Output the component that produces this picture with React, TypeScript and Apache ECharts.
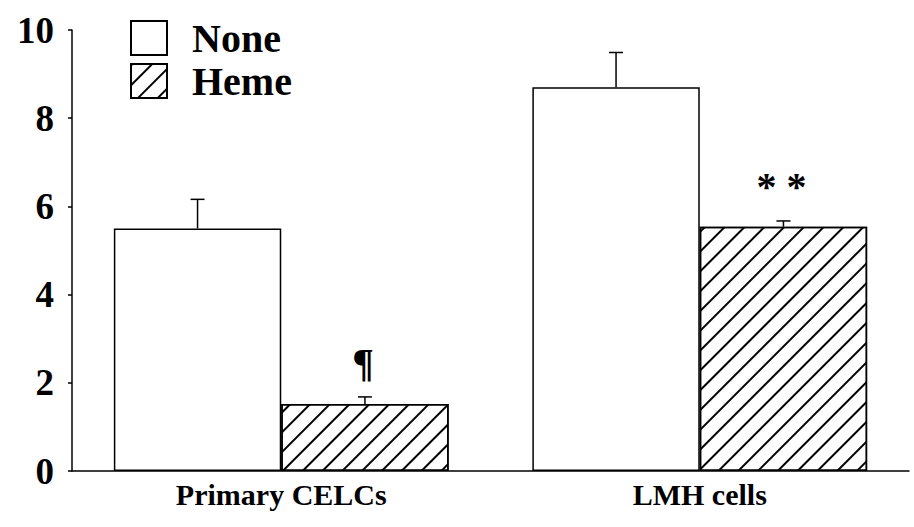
import React, { useEffect, useRef } from "react";
import * as echarts from "echarts";

const categories = ["Primary CELCs", "LMH cells"];
const seriesNames = ["None", "Heme"];
const noneValues = [5.5, 8.7];
const hemeValues = [1.52, 5.54];
const noneErrors = [0.66, 0.79];
const hemeErrors = [0.16, 0.13];
const hemeMarks = ["¶", "* *"];
const yTicks = [0, 2, 4, 6, 8, 10];

const FONT = "'Liberation Serif', 'Times New Roman', serif";

const hatch = {
  symbol: "rect",
  symbolSize: 1,
  color: "#000",
  backgroundColor: "#fff",
  dashArrayX: [1, 0],
  dashArrayY: [1.7, 11.3],
  rotation: -Math.PI / 4,
};

function errorRender(values: number[], errors: number[], side: number, marks?: string[]) {
  return (params: any, api: any) => {
    const i = params.dataIndex;
    const band = api.size([1, 0])[0];
    const base = api.coord([i, values[i]]);
    const top = api.coord([i, values[i] + errors[i]]);
    const x = base[0] + side * band * 0.2;
    const children: any[] = [
      {
        type: "line",
        shape: { x1: x, y1: base[1], x2: x, y2: top[1] },
        style: { stroke: "#000", lineWidth: 1.5 },
      },
      {
        type: "line",
        shape: { x1: x - 7, y1: top[1], x2: x + 7, y2: top[1] },
        style: { stroke: "#000", lineWidth: 1.5 },
      },
    ];
    if (marks && marks[i]) {
      children.push({
        type: "text",
        x: x - 2,
        y: top[1] - 14,
        style: {
          text: marks[i],
          fontFamily: FONT,
          fontWeight: "bold",
          fontSize: 40,
          fill: "#000",
          align: "center",
          verticalAlign: "bottom",
        },
      });
    }
    return { type: "group", children };
  };
}

export default function App() {
  const ref = useRef<HTMLDivElement>(null);
  useEffect(() => {
    if (!ref.current) return;
    const chart = echarts.init(ref.current, null, { renderer: "svg" });
    chart.setOption({
      animation: false,
      backgroundColor: "#fff",
      textStyle: { fontFamily: FONT },
      grid: { left: 72, right: 5, top: 30, bottom: 56, containLabel: false },
      legend: {
        data: seriesNames,
        orient: "vertical",
        left: 125,
        top: 13,
        itemWidth: 36,
        itemHeight: 34,
        itemGap: 3,
        icon: "rect",
        textStyle: {
          fontFamily: FONT,
          fontWeight: "bold",
          fontSize: 40,
          color: "#000",
          padding: [0, 0, 0, 20],
        },
      },
      xAxis: {
        type: "category",
        data: categories,
        axisLine: { lineStyle: { color: "#000", width: 1.5 } },
        axisTick: { show: false },
        axisLabel: {
          color: "#000",
          fontFamily: FONT,
          fontWeight: "bold",
          fontSize: 30,
          margin: 8,
        },
      },
      yAxis: {
        type: "value",
        min: 0,
        max: 10,
        interval: 2,
        splitLine: { show: false },
        axisLine: { show: true, lineStyle: { color: "#000", width: 1.5 } },
        axisTick: { show: true, length: 4, lineStyle: { color: "#000", width: 1.5 } },
        axisLabel: {
          color: "#000",
          fontFamily: FONT,
          fontWeight: "bold",
          fontSize: 37,
          margin: 18,
          formatter: (v: number) => (yTicks.includes(v) ? String(v) : ""),
        },
      },
      series: [
        {
          name: seriesNames[0],
          type: "bar",
          data: noneValues,
          barGap: "0%",
          barCategoryGap: "20%",
          itemStyle: { color: "#fff", borderColor: "#000", borderWidth: 1.5 },
        },
        {
          name: seriesNames[1],
          type: "bar",
          data: hemeValues,
          barGap: "0%",
          barCategoryGap: "20%",
          itemStyle: { color: "#fff", borderColor: "#000", borderWidth: 1.5, decal: hatch },
        },
        {
          type: "custom",
          name: "noneErr",
          data: noneValues.map((v, i) => [i, v]),
          renderItem: errorRender(noneValues, noneErrors, -1),
          z: 5,
        },
        {
          type: "custom",
          name: "hemeErr",
          data: hemeValues.map((v, i) => [i, v]),
          renderItem: errorRender(hemeValues, hemeErrors, 1, hemeMarks),
          z: 5,
        },
      ],
    });
    return () => chart.dispose();
  }, []);
  return (
    <div
      ref={ref}
      style={{ position: "fixed", left: 0, top: 0, width: 914, height: 527, background: "#fff" }}
    />
  );
}
